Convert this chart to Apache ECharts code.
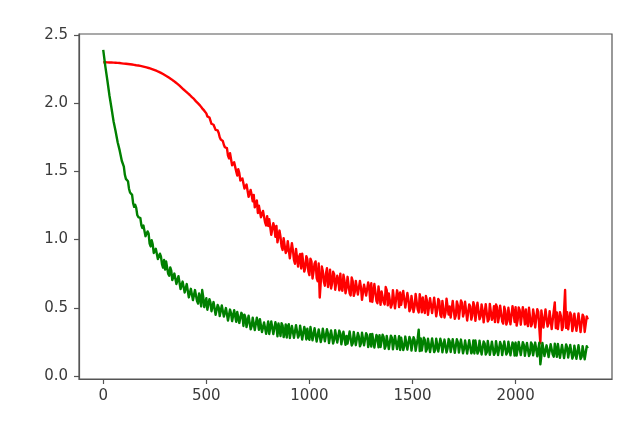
<!DOCTYPE html>
<html>
<head>
<meta charset="utf-8">
<script src="https://cdn.jsdelivr.net/npm/echarts@6/dist/echarts.min.js"></script>
<style>
html,body{margin:0;padding:0;background:#fff;}
#chart{width:640px;height:425px;}
</style>
</head>
<body>
<div id="chart"></div>
<script>
// sample spacing along the x axis (iterations)
const STEP = 10;

const xTicks = [0, 500, 1000, 1500, 2000];
const yTicks = [0, 0.5, 1.0, 1.5, 2.0, 2.5];

// red curve, one value every STEP iterations starting at 0
const redValues = [
  2.300,2.300,2.299,2.298,2.298,2.297,2.296,2.295,2.294,2.292,
  2.290,2.289,2.287,2.285,2.283,2.281,2.278,2.276,2.273,2.270,
  2.266,2.262,2.258,2.253,2.248,2.242,2.236,2.229,2.222,2.214,
  2.205,2.196,2.186,2.176,2.165,2.153,2.141,2.128,2.114,2.100,
  2.087,2.073,2.060,2.044,2.031,2.013,1.998,1.982,1.962,1.945,
  1.925,1.889,1.883,1.846,1.837,1.790,1.781,1.733,1.723,1.677,
  1.670,1.595,1.620,1.550,1.558,1.470,1.487,1.424,1.446,1.363,
  1.390,1.301,1.327,1.328,1.234,1.195,1.251,1.177,1.208,1.104,
  1.100,1.155,1.030,1.090,1.100,0.975,1.017,0.924,1.016,0.918,
  0.985,0.871,0.922,0.823,0.924,0.875,0.788,0.901,0.794,0.857,
  0.740,0.840,0.765,0.840,0.695,0.575,0.803,0.691,0.749,0.652,
  0.780,0.678,0.746,0.629,0.702,0.750,0.625,0.700,0.645,0.720,
  0.590,0.695,0.615,0.710,0.590,0.650,0.556,0.677,0.603,0.649,
  0.680,0.556,0.617,0.533,0.644,0.620,0.541,0.652,0.518,0.594,
  0.525,0.632,0.494,0.591,0.613,0.520,0.622,0.489,0.561,0.493,
  0.600,0.507,0.604,0.466,0.548,0.575,0.462,0.554,0.446,0.558,
  0.450,0.578,0.486,0.549,0.432,0.555,0.463,0.561,0.509,0.432,
  0.560,0.443,0.516,0.419,0.537,0.465,0.543,0.406,0.509,0.442,
  0.515,0.404,0.537,0.436,0.479,0.393,0.516,0.415,0.523,0.437,
  0.395,0.504,0.437,0.521,0.384,0.478,0.401,0.510,0.373,0.462,
  0.505,0.409,0.482,0.366,0.454,0.488,0.366,0.500,0.383,0.442,
  0.360,0.469,0.240,0.476,0.369,0.488,0.386,0.465,0.343,0.540,
  0.465,0.339,0.437,0.361,0.630,0.468,0.336,0.445,0.368,0.467,
  0.325,0.453,0.336,0.434,0.312,0.415
];

// extra red readings in the noisy part, at RED_MID_START, +STEP, ... (half-way samples)
const RED_MID_START = 505;
const redMidValues = [
  1.903,1.895,1.849,1.842,1.804,1.800,1.750,1.736,1.695,1.677,
  1.615,1.633,1.545,1.567,1.500,1.516,1.433,1.448,1.374,1.404,
  1.313,1.364,1.280,1.236,1.287,1.248,1.164,1.210,1.126,1.172,
  1.150,1.035,1.120,1.020,0.980,1.066,0.948,1.010,0.902,0.989,
  0.863,0.974,0.850,0.931,0.802,0.894,0.897,0.765,0.878,0.766,
  0.860,0.715,0.825,0.720,0.825,0.686,0.769,0.662,0.790,0.698,
  0.641,0.764,0.632,0.735,0.628,0.647,0.742,0.607,0.727,0.607,
  0.722,0.587,0.697,0.597,0.697,0.558,0.669,0.590,0.686,0.547,
  0.543,0.674,0.550,0.656,0.522,0.623,0.524,0.630,0.606,0.502,
  0.629,0.496,0.628,0.505,0.522,0.624,0.501,0.608,0.475,0.587,
  0.469,0.601,0.488,0.600,0.467,0.499,0.586,0.448,0.570,0.462,
  0.574,0.437,0.565,0.448,0.551,0.429,0.567,0.450,0.428,0.551,
  0.419,0.547,0.420,0.553,0.436,0.544,0.407,0.525,0.413,0.541,
  0.404,0.538,0.416,0.525,0.393,0.527,0.400,0.529,0.412,0.511,
  0.524,0.393,0.516,0.400,0.508,0.377,0.500,0.379,0.512,0.396,
  0.369,0.503,0.376,0.505,0.378,0.392,0.500,0.364,0.487,0.356,
  0.489,0.353,0.481,0.355,0.488,0.362,0.475,0.344,0.477,0.351,
  0.344,0.468,0.336,0.475,0.353,0.342,0.465,0.329,0.457,0.331,
  0.459,0.322,0.450,0.323,0.436
];

// green curve, one value every STEP iterations starting at 0
const greenValues = [
  2.390,2.272,2.168,2.058,1.965,1.868,1.794,1.713,1.652,1.578,
  1.535,1.445,1.428,1.345,1.328,1.240,1.232,1.165,1.158,1.085,
  1.100,1.015,1.045,0.950,0.965,0.890,0.930,0.855,0.875,0.795,
  0.780,0.830,0.735,0.772,0.695,0.753,0.685,0.725,0.630,0.680,
  0.600,0.663,0.570,0.643,0.570,0.625,0.530,0.575,0.630,0.505,
  0.570,0.477,0.539,0.476,0.543,0.450,0.503,0.431,0.509,0.447,
  0.500,0.410,0.460,0.395,0.470,0.470,0.389,0.463,0.367,0.426,
  0.355,0.445,0.365,0.420,0.330,0.390,0.416,0.322,0.393,0.309,
  0.400,0.322,0.399,0.296,0.363,0.385,0.293,0.371,0.319,0.282,
  0.380,0.293,0.356,0.279,0.372,0.300,0.363,0.266,0.329,0.347,
  0.265,0.358,0.276,0.339,0.252,0.345,0.283,0.346,0.249,0.312,
  0.240,0.334,0.267,0.336,0.239,0.313,0.231,0.315,0.293,0.232,
  0.325,0.239,0.317,0.221,0.289,0.238,0.316,0.220,0.298,0.247,
  0.215,0.309,0.222,0.286,0.299,0.203,0.286,0.220,0.298,0.202,
  0.280,0.199,0.293,0.212,0.191,0.285,0.219,0.288,0.192,0.266,
  0.190,0.264,0.198,0.340,0.276,0.180,0.264,0.198,0.277,0.181,
  0.270,0.190,0.274,0.179,0.243,0.173,0.267,0.202,0.256,0.176,
  0.270,0.174,0.248,0.167,0.261,0.200,0.249,0.168,0.262,0.181,
  0.165,0.255,0.179,0.259,0.158,0.238,0.172,0.252,0.161,0.241,
  0.170,0.255,0.159,0.224,0.153,0.248,0.172,0.252,0.156,0.231,
  0.245,0.155,0.249,0.164,0.228,0.148,0.242,0.167,0.231,0.151,
  0.240,0.159,0.085,0.242,0.146,0.225,0.139,0.233,0.157,0.236,
  0.140,0.234,0.148,0.227,0.131,0.210,0.134,0.228,0.147,0.221,
  0.130,0.220,0.139,0.224,0.128,0.203
];

// extra green readings in the noisy part, at GREEN_MID_START, +STEP, ...
const GREEN_MID_START = 105;
const greenMidValues = [
  1.475,1.453,1.373,1.355,1.267,1.255,1.180,1.172,1.105,1.103,
  1.025,1.060,0.970,0.995,0.902,0.932,0.857,0.897,0.820,0.850,
  0.840,0.750,0.796,0.703,0.751,0.674,0.732,0.637,0.692,0.612,
  0.674,0.576,0.639,0.556,0.630,0.550,0.605,0.510,0.580,0.495,
  0.486,0.563,0.475,0.542,0.449,0.521,0.439,0.517,0.435,0.498,
  0.407,0.487,0.402,0.482,0.397,0.472,0.376,0.445,0.449,0.358,
  0.442,0.342,0.427,0.337,0.427,0.338,0.419,0.325,0.406,0.307,
  0.308,0.400,0.307,0.394,0.291,0.379,0.387,0.285,0.378,0.361,
  0.279,0.367,0.280,0.373,0.281,0.369,0.267,0.360,0.268,0.281,
  0.359,0.262,0.350,0.253,0.341,0.249,0.347,0.255,0.343,0.241,
  0.334,0.238,0.336,0.245,0.333,0.232,0.325,0.229,0.237,0.326,
  0.224,0.323,0.226,0.315,0.218,0.317,0.225,0.314,0.212,0.306,
  0.309,0.208,0.301,0.210,0.213,0.302,0.200,0.294,0.197,0.296,
  0.195,0.294,0.198,0.292,0.281,0.190,0.289,0.193,0.287,0.186,
  0.285,0.184,0.273,0.182,0.186,0.280,0.179,0.273,0.176,0.276,
  0.175,0.274,0.179,0.273,0.173,0.267,0.172,0.271,0.176,0.270,
  0.170,0.269,0.172,0.267,0.166,0.260,0.164,0.263,0.166,0.261,
  0.260,0.164,0.259,0.158,0.253,0.157,0.257,0.156,0.251,0.155,
  0.255,0.154,0.249,0.153,0.253,0.157,0.252,0.151,0.246,0.150,
  0.150,0.249,0.154,0.248,0.148,0.242,0.147,0.246,0.151,0.245,
  0.145,0.244,0.147,0.241,0.141,0.235,0.138,0.237,0.142,0.236,
  0.235,0.134,0.228,0.132,0.231,0.135,0.228,0.127,0.222,0.126,
  0.225,0.124,0.219,0.123,0.218
];

const toPairs = (vals, start) => vals.map((v, i) => [start + i * STEP, v]);
const merge = (a, b) => a.concat(b).sort((p, q) => p[0] - q[0]);

const redData = merge(toPairs(redValues, 0), toPairs(redMidValues, RED_MID_START));
const greenData = merge(toPairs(greenValues, 0), toPairs(greenMidValues, GREEN_MID_START));

const chart = echarts.init(document.getElementById('chart'), null, {renderer: 'canvas'});
const textStyle = {color: '#3a3a3a', fontFamily: 'DejaVu Sans', fontSize: 15};

chart.setOption({
  animation: false,
  backgroundColor: '#ffffff',
  grid: {
    left: 79, right: 28, top: 34, bottom: 46,
    show: true, borderColor: '#555555', borderWidth: 1.2, backgroundColor: 'transparent'
  },
  xAxis: {
    type: 'value',
    min: -117.5, max: 2467.5,
    splitLine: {show: false},
    axisLine: {show: true, onZero: false, lineStyle: {color: '#555555', width: 1.2}},
    axisTick: {show: true, inside: false, length: 5, customValues: xTicks, lineStyle: {color: '#555555', width: 1.2}},
    axisLabel: Object.assign({margin: 10, customValues: xTicks, formatter: v => String(v)}, textStyle)
  },
  yAxis: {
    type: 'value',
    min: -0.022, max: 2.507,
    splitLine: {show: false},
    axisLine: {show: true, onZero: false, lineStyle: {color: '#555555', width: 1.2}},
    axisTick: {show: true, inside: false, length: 5, customValues: yTicks, lineStyle: {color: '#555555', width: 1.2}},
    axisLabel: Object.assign({margin: 11, customValues: yTicks, formatter: v => v.toFixed(1)}, textStyle)
  },
  series: [
    {
      type: 'line', data: redData, showSymbol: false, symbol: 'none',
      lineStyle: {color: '#ff0000', width: 2.4, join: 'round'}, itemStyle: {color: '#ff0000'}, z: 2
    },
    {
      type: 'line', data: greenData, showSymbol: false, symbol: 'none',
      lineStyle: {color: '#008000', width: 2.4, join: 'round'}, itemStyle: {color: '#008000'}, z: 3
    }
  ]
});
</script>
</body>
</html>
